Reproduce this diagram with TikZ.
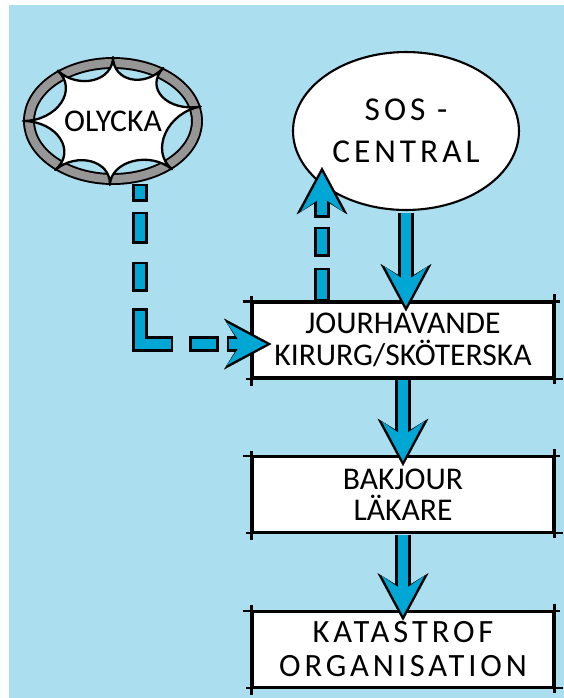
\documentclass[tikz,border=0pt]{standalone}
\usepackage{fontspec}
\setmainfont{Carlito}
\newfontfamily\sosfont{Carlito}[LetterSpace=12]
\usepackage{tikz}
\usetikzlibrary{shapes,arrows.meta,positioning,calc}
\definecolor{skyblue}{RGB}{171,222,238}
\definecolor{arrowblue}{RGB}{0,167,212}
\definecolor{ringgray}{RGB}{150,150,150}

\begin{document}
\begin{tikzpicture}[x=0.02cm,y=-0.02cm,node distance=1.55cm,
  sketch/.style={draw,line width=1.2pt},
  stepbox/.style={draw,line width=1.2pt,fill=white,minimum width=6.02cm,minimum height=1.5cm,align=center,font=\fontsize{18}{18}\selectfont,
    append after command={([xshift=-5pt]\tikzlastnode.north west) edge[sketch] ([xshift=3pt]\tikzlastnode.north east)
      ([xshift=-3pt]\tikzlastnode.south west) edge[sketch] ([xshift=5pt]\tikzlastnode.south east)
      ([yshift=3pt]\tikzlastnode.north west) edge[sketch] ([yshift=-4pt]\tikzlastnode.south west)
      ([yshift=4pt]\tikzlastnode.north east) edge[sketch] ([yshift=-3pt]\tikzlastnode.south east)}},
  fatout/.style={draw=black,line width=8.8pt,-{Stealth[length=27pt,width=29pt,inset=9pt,line width=0.1pt]}},
  fatin/.style={draw=arrowblue,line width=6pt,shorten >=2.9pt,-{Stealth[length=22.5pt,width=24pt,inset=8.3pt,line width=0.1pt]}}]
\fill[white,use as bounding box] (0,0) rectangle (564,698);
\fill[skyblue] (9,5) rectangle (564,698);
\node[stepbox] (jour) at (403,340) {JOURHAVANDE\\KIRURG/SKÖTERSKA};
\node[stepbox,below=of jour] (bakjour) {BAKJOUR\\LÄKARE};
\node[stepbox,below=of bakjour,font=\sosfont\fontsize{18.5}{19}\selectfont] (kat) {KATASTROF\\ORGANISATION};
\node[ellipse,draw,line width=1.2pt,fill=white,minimum width=4.52cm,minimum height=3.16cm,inner sep=0pt,align=center,font=\sosfont\fontsize{19}{24}\selectfont] (sos) at (406,131) {SOS -\\CENTRAL};
% olycka: ring and burst
\node[ellipse,draw=black,line width=1.1pt,double=ringgray,double distance=4.6pt,minimum width=3.36cm,minimum height=2.32cm] (olycka) at (113,121) {};
\foreach \a [count=\i] in {90,56,13,-49,-92,-130,180,128}
  \coordinate (p\i) at ($(olycka.center)+({90*cos(\a)},{-64*sin(\a)})$);
\filldraw[fill=white,line width=1.3pt,line join=round] (p8) \foreach \i [remember=\i as \j (initially 8)] in {1,...,8}{ .. controls ($(olycka.center)!0.62!(p\j)$) and ($(olycka.center)!0.62!(p\i)$) .. (p\i)} -- cycle;
\node[font=\fontsize{18}{18}\selectfont] at (olycka) {OLYCKA};
% dashed arrows
\coordinate (olstart) at ($(olycka.center)+(27,63)$);
\coordinate (join) at ($(jour.west)+(20,4)$);
\draw[fatout,dash pattern=on 10.2pt off 5.7pt on 18.1pt off 10.2pt on 17pt off 9.6pt on 39.1pt off 9.1pt on 17pt off 4.5pt on 29.5pt off 10pt] (olstart) |- (join);
\draw[fatin,dash pattern=on 7.4pt off 8.5pt on 15.3pt off 13pt on 14.2pt off 12.4pt on 36.3pt off 11.9pt on 14.2pt off 7.3pt on 26.7pt off 12.8pt,dash phase=178.6pt] (olstart) |- (join);
\coordinate (upstart) at ($(jour.north)+(-81,0)$);
\coordinate (upend) at ($(sos.center)+(-84,36)$);
\draw[fatout,dash pattern=on 19.3pt off 6.2pt on 17pt off 5.1pt on 40pt off 10pt] (upstart) -- (upend);
\draw[fatin,dash pattern=on 16.5pt off 9pt on 14.2pt off 7.9pt on 37.2pt off 12.8pt,dash phase=96.2pt] (upstart) -- (upend);
% solid arrows
\foreach \s/\t in {sos/jour,jour/bakjour,bakjour/kat}{
  \draw[fatout] ($(\s.south)+(0,1.5)$) -- ($(\s.south |- \t.north)+(0,10)$);
  \draw[fatin] ($(\s.south)+(0,1.5)$) -- ($(\s.south |- \t.north)+(0,10)$);
}
\end{tikzpicture}
\end{document}
